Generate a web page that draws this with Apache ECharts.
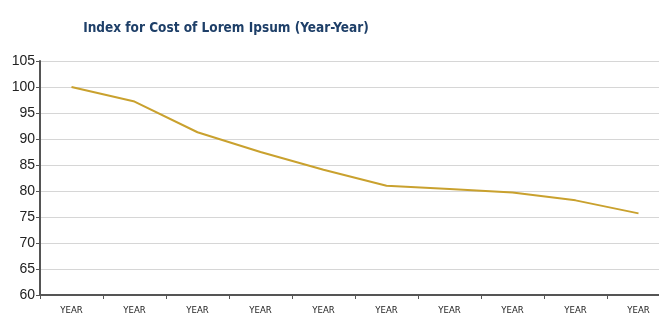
<!DOCTYPE html>
<html>
<head>
<meta charset="utf-8">
<script src="https://cdn.jsdelivr.net/npm/echarts@6/dist/echarts.min.js"></script>
<style>
  html, body { margin: 0; padding: 0; background: #fff; }
  #chart { width: 659px; height: 318px; }
</style>
</head>
<body>
<div id="chart"></div>
<script>
let categories = ['YEAR', 'YEAR', 'YEAR', 'YEAR', 'YEAR', 'YEAR', 'YEAR', 'YEAR', 'YEAR', 'YEAR'];
let indexValues = [100, 97.2, 91.3, 87.5, 84.1, 81.0, 80.4, 79.7, 78.2, 75.7];
let yTicks = { min: 60, max: 105, interval: 5 };

var dom = document.getElementById('chart');
var myChart = echarts.init(dom, null, { renderer: 'canvas' });

var option = {
    backgroundColor: '#fff',
    animation: false,
    title: {
        text: 'Index for Cost of Lorem Ipsum (Year-Year)',
        left: 221,
        textAlign: 'center',
        top: 16,
        textStyle: {
            fontFamily: "'DejaVu Sans Condensed', 'Liberation Sans'",
            fontWeight: 'bold',
            fontSize: 13.5,
            color: '#1e3f68'
        }
    },
    grid: {
        left: 40,
        top: 61,
        width: 630,
        height: 234,
        outerBoundsMode: 'none'
    },
    xAxis: {
        type: 'category',
        data: categories,
        boundaryGap: true,
        axisLine: { lineStyle: { color: '#555', width: 2 } },
        axisTick: { show: true, length: 4, lineStyle: { color: '#555' } },
        axisLabel: {
            margin: 11,
            fontFamily: "'DejaVu Sans Condensed', 'Liberation Sans'",
            fontSize: 9.5,
            color: '#222'
        },
        splitLine: { show: false }
    },
    yAxis: {
        type: 'value',
        min: yTicks.min,
        max: yTicks.max,
        interval: yTicks.interval,
        axisLine: { show: true, lineStyle: { color: '#555', width: 2 } },
        axisTick: { show: true, length: 4, lineStyle: { color: '#555' } },
        axisLabel: {
            margin: 5,
            fontFamily: 'Liberation Sans',
            fontSize: 14,
            color: '#222'
        },
        splitLine: { show: true, lineStyle: { color: '#d6d6d6', width: 1 } }
    },
    series: [{
        type: 'line',
        data: indexValues,
        showSymbol: false,
        lineStyle: { color: '#c9a12e', width: 2 },
        itemStyle: { color: '#c9a12e' }
    }]
};

myChart.setOption(option);
</script>
</body>
</html>
